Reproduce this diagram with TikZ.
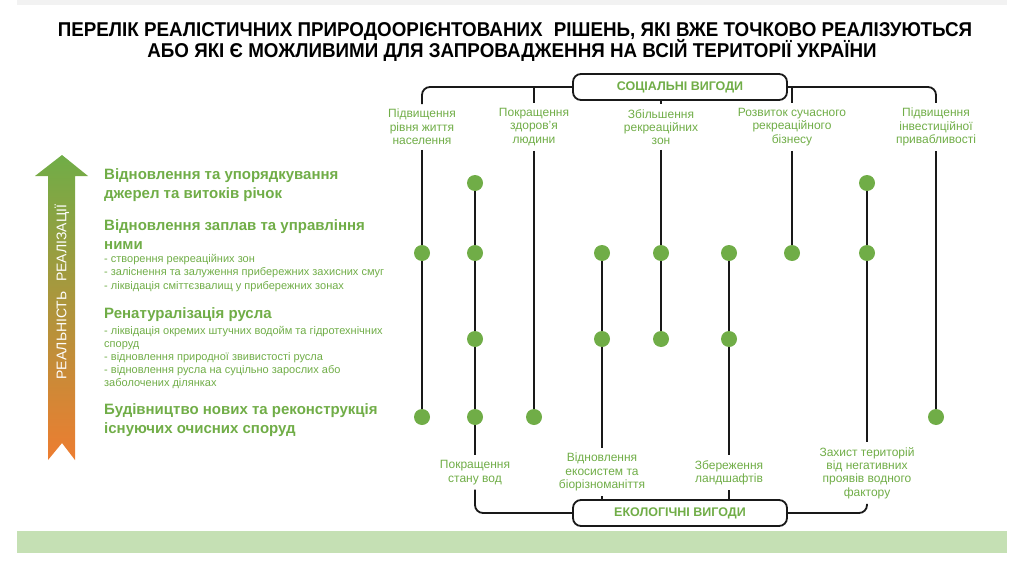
\documentclass[tikz,border=0pt]{standalone}
\usepackage{fontspec}
\setmainfont{Liberation Sans}
\newfontfamily\titlefont{Liberation Sans}[FakeStretch=0.94]
\pgfdeclarelayer{bg}
\pgfsetlayers{bg,main}
\definecolor{gr}{HTML}{70AD47}
\definecolor{org}{HTML}{ED7D31}
\definecolor{band}{HTML}{C5E0B4}
\begin{document}
\begin{tikzpicture}[x=1pt,y=-1pt,
 dot/.style={circle,fill=gr,inner sep=0pt,minimum size=16pt},
 lbl/.style={text=gr,align=center,font=\fontsize{12}{13.3}\selectfont,inner xsep=0pt,inner ysep=5pt},
 conn/.style={line width=1.8pt,black!90},
 gbox/.style={draw=black!90,fill=white,line width=1.8pt,rounded corners=8pt,minimum width=214pt,minimum height=26pt,inner sep=0pt,text=gr,font=\bfseries\fontsize{12.5}{14}\selectfont},
 head/.style={anchor=base west,text=gr,inner sep=0pt,font=\bfseries\fontsize{15}{17}\selectfont},
 subitem/.style={anchor=base west,text=gr,inner sep=0pt,font=\fontsize{11}{12}\selectfont},
 ttl/.style={inner sep=0pt,anchor=base,font=\titlefont\bfseries\fontsize{20}{22}\selectfont}
]
\useasboundingbox (0,0) rectangle (1024,567);
\fill[black!5] (17,0) rectangle (1007,5);
\fill[band] (17,531) rectangle (1007,553);

% title
\node[ttl] (ttlA) at (515,37) {ПЕРЕЛІК РЕАЛІСТИЧНИХ ПРИРОДООРІЄНТОВАНИХ\hspace{0.3em} РІШЕНЬ, ЯКІ ВЖЕ ТОЧКОВО РЕАЛІЗУЮТЬСЯ};
\node[ttl] (ttlB) at (512,58) {АБО ЯКІ Є МОЖЛИВИМИ ДЛЯ ЗАПРОВАДЖЕННЯ НА ВСІЙ ТЕРИТОРІЇ УКРАЇНИ};

% arrow
\shade[top color=gr, bottom color=org] (62,155) -- (88,176) -- (75,176) -- (75,460) -- (62,443) -- (48,460) -- (48,176) -- (35,176) -- cycle;
\node[rotate=90,text=white,inner sep=0pt,font=\fontsize{14}{16}\selectfont] (rr) at (62,292) {РЕАЛЬНІСТЬ\hspace{0.4em} РЕАЛІЗАЦІЇ};

% left texts
\node[head] (h1a) at (104,179) {Відновлення та упорядкування};
\node[head] (h1b) at (104,198) {джерел та витоків річок};
\node[head] (h2a) at (104,230) {Відновлення заплав та управління};
\node[head] (h2b) at (104,249) {ними};
\node[subitem] (u2a) at (104,262) {- створення рекреаційних зон};
\node[subitem] (u2b) at (104,275.5) {- заліснення та залуження прибережних захисних смуг};
\node[subitem] (u2c) at (104,289) {- ліквідація сміттєзвалищ у прибережних зонах};
\node[head] (h3a) at (104,318) {Ренатуралізація русла};
\node[subitem] (u3a) at (104,334) {- ліквідація окремих штучних водойм та гідротехнічних};
\node[subitem] (u3b) at (104,347) {споруд};
\node[subitem] (u3c) at (104,360) {- відновлення природної звивистості русла};
\node[subitem] (u3d) at (104,373) {- відновлення русла на суцільно зарослих або};
\node[subitem] (u3e) at (104,386) {заболочених ділянках};
\node[head] (h4a) at (104,414) {Будівництво нових та реконструкція};
\node[head] (h4b) at (104,433) {існуючих очисних споруд};

% boxes
\node[gbox] (sb) at (680,87) {СОЦІАЛЬНІ ВИГОДИ};
\node[gbox] (eb) at (680,513) {ЕКОЛОГІЧНІ ВИГОДИ};

% top labels
\node[lbl] (s1) at (422,127) {Підвищення\\рівня життя\\населення};
\node[lbl] (s3) at (534,127) {Покращення\\здоров’я\\людини};
\node[lbl] (s5) at (661,127) {Збільшення\\рекреаційних\\зон};
\node[lbl] (s7) at (792,127) {Розвиток сучасного\\рекреаційного\\бізнесу};
\node[lbl] (s9) at (936,127) {Підвищення\\інвестиційної\\привабливості};

% bottom labels
\node[lbl] (e2) at (475,472.5) {Покращення\\стану вод};
\node[lbl] (e4) at (602,472) {Відновлення\\екосистем та\\біорізноманіття};
\node[lbl] (e6) at (729,472.5) {Збереження\\ландшафтів};
\node[lbl] (e8) at (867,473) {Захист територій\\від негативних\\проявів водного\\фактору};

% dots
\node[dot] (d12) at (475,183) {};
\node[dot] (d18) at (867,183) {};
\node[dot] (d21) at (422,253) {};
\node[dot] (d22) at (475,253) {};
\node[dot] (d24) at (602,253) {};
\node[dot] (d25) at (661,253) {};
\node[dot] (d26) at (729,253) {};
\node[dot] (d27) at (792,253) {};
\node[dot] (d28) at (867,253) {};
\node[dot] (d32) at (475,339) {};
\node[dot] (d34) at (602,339) {};
\node[dot] (d35) at (661,339) {};
\node[dot] (d36) at (729,339) {};
\node[dot] (d41) at (422,417) {};
\node[dot] (d42) at (475,417) {};
\node[dot] (d43) at (534,417) {};
\node[dot] (d49) at (936,417) {};

\begin{pgfonlayer}{bg}
\draw[conn,rounded corners=8pt] (sb.west) -| (s1.north);
\draw[conn] (s3.north |- sb.west) -- (s3.north);
\draw[conn] (s5.north |- sb.south) -- (s5.north);
\draw[conn] (s7.north |- sb.east) -- (s7.north);
\draw[conn,rounded corners=8pt] (sb.east) -| (s9.north);
\draw[conn] (s1.south) -- (d41.center);
\draw[conn] (s3.south) -- (d43.center);
\draw[conn] (s5.south) -- (d35.center);
\draw[conn] (s7.south) -- (d27.center);
\draw[conn] (s9.south) -- (d49.center);
\draw[conn] (d12.center) -- (e2.north);
\draw[conn] (d24.center) -- (e4.north);
\draw[conn] (d26.center) -- (e6.north);
\draw[conn] (d18.center) -- (e8.north);
\draw[conn,rounded corners=8pt] (e2.south) |- (eb.west);
\draw[conn] (e4.south) -- (e4.south |- eb.north);
\draw[conn] (e6.south) -- (e6.south |- eb.north);
\draw[conn,rounded corners=8pt] (e8.south) |- (eb.east);
\end{pgfonlayer}
\end{tikzpicture}
\end{document}
